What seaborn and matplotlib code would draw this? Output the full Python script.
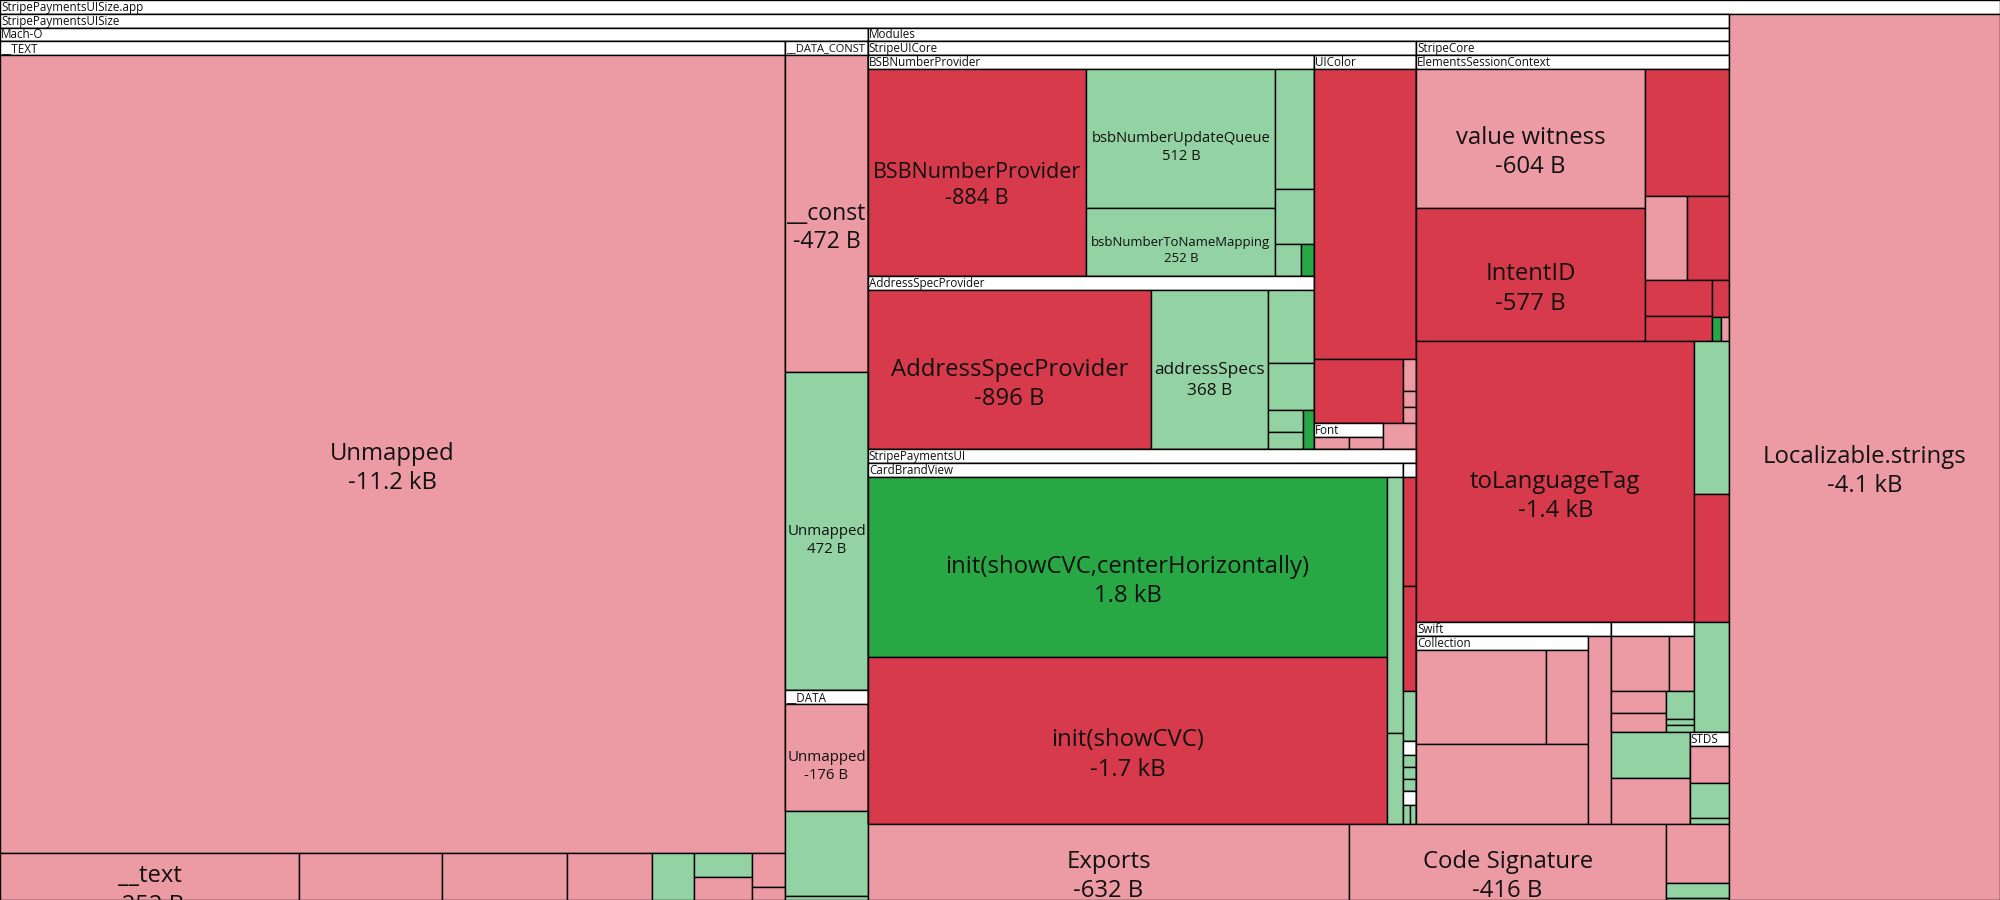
import matplotlib
matplotlib.use("Agg")
import matplotlib.pyplot as plt
from matplotlib.patches import Rectangle
import seaborn as sns

# kind of change -> colour (removed, shrunk, grown, added)
KINDS = ["del", "down", "up", "add"]
KIND_COLORS = dict(zip(KINDS, sns.color_palette(["#D73A4A", "#EC9BA4", "#93D2A2", "#28A745"])))

# (name, change in bytes, kind) -- None where the cell carries no readable label
TEXT_SECTIONS = [("Unmapped", -11230, "down"), ("__text", -252, "down"), (None, -121, "down"),
                 (None, -105, "down"), (None, -72, "down"), (None, 35, "up"), (None, 25, "up"),
                 (None, -24, "down"), (None, -20, "down"), (None, -8, "down")]
DATA_CONST_SECTIONS = [("__const", -472, "down"), ("Unmapped", 472, "up")]
DATA_SECTIONS = [("Unmapped", -176, "down")]
MACHO_OTHER = [(None, 124, "up"), (None, 6, "up")]

BSB_ITEMS = [("BSBNumberProvider", -884, "del"), ("bsbNumberUpdateQueue", 512, "up"),
             ("bsbNumberToNameMapping", 252, "up"), (None, 90, "up"), (None, 41, "up"),
             (None, 16, "up"), (None, 8, "add")]
ADDRESS_ITEMS = [("AddressSpecProvider", -896, "del"), ("addressSpecs", 368, "up"), (None, 67, "up"),
                 (None, 43, "up"), (None, 16, "up"), (None, 12, "up"), (None, 8, "add")]
UICOLOR_ITEMS = [(None, -566, "del"), (None, -108, "del"), (None, -8, "down"), (None, -4, "down"),
                 (None, -4, "down")]
FONT_ITEMS = [(None, -17, "down"), (None, -16, "down")]
UICORE_OTHER = [(None, -16, "down")]

CARD_ITEMS = [("init(showCVC,centerHorizontally)", 1780, "add"), ("init(showCVC)", -1661, "del"),
              (None, 78, "up"), (None, 28, "up")]
PAYMENTS_SMALL_A = [(None, -28, "del"), (None, -27, "del")]
PAYMENTS_OTHER = [(None, 12, "up")]
PAYMENTS_SMALL_B = [(None, 4, "up"), (None, 4, "up"), (None, 4, "up")]
PAYMENTS_SMALL_C = [(None, 4, "up"), (None, 4, "up")]

SESSION_ITEMS = [("value witness", -604, "down"), ("IntentID", -577, "del"), (None, -204, "del"),
                 (None, -68, "down"), (None, -68, "del"), (None, -46, "del"), (None, -32, "del"),
                 (None, -12, "del"), (None, 4, "add"), (None, -4, "down")]
CORE_OTHER = [("toLanguageTag", -1415, "del"), (None, 97, "up"), (None, -81, "del")]

COLLECTION_ITEMS = [(None, -252, "down"), (None, -80, "down"), (None, -280, "down")]
SWIFT_OTHER = [(None, -83, "down")]
UNNAMED_MODULE = [(None, -64, "down"), (None, -28, "down"), (None, -25, "down"), (None, -21, "down"),
                  (None, 16, "up"), (None, 4, "up"), (None, 4, "up")]
STDS_ITEMS = [(None, -30, "down"), (None, 29, "up"), (None, 5, "up")]
MODULES_OTHER = [(None, 68, "up"), (None, 64, "up"), (None, -64, "down")]

BINARY_OTHER = [("Exports", -632, "down"), ("Code Signature", -416, "down"), (None, -64, "down"),
                (None, 17, "up"), (None, 2, "up")]
APP_OTHER = [("Localizable.strings", -4100, "down")]

HEADER = 13.75   # height of a group's title bar, px
FMAX = 17.2      # largest label size, pt
FHEAD = 8.4      # title bar text size, pt


def leaves(items):
    return [dict(name=n, change=c, kind=k) for n, c, k in items]


def group(name, children, rows):
    assert sum(rows) == len(children)
    return dict(name=name, children=children, rows=rows)


text = group("__TEXT", leaves(TEXT_SECTIONS), [1, 1, 1, 1, 1, 1, 2, 1, 1])
data_const = group("__DATA_CONST", leaves(DATA_CONST_SECTIONS), [1, 1])
data = group("__DATA", leaves(DATA_SECTIONS), [1])
macho = group("Mach-O", [text, data_const, data] + leaves(MACHO_OTHER), [1, 1, 1, 1, 1])

bsb = group("BSBNumberProvider", leaves(BSB_ITEMS), [1, 2, 1, 1, 1, 1])
address = group("AddressSpecProvider", leaves(ADDRESS_ITEMS), [1, 1, 1, 1, 2, 1])
uicolor = group("UIColor", leaves(UICOLOR_ITEMS), [1, 1, 1, 1, 1])
font = group("Font", leaves(FONT_ITEMS), [1, 1])
uicore = group("StripeUICore", [bsb, address, uicolor, font] + leaves(UICORE_OTHER), [2, 1, 1, 1])

card = group("CardBrandView", leaves(CARD_ITEMS), [2, 1, 1])
payments = group("StripePaymentsUI",
                 [card, group(None, leaves(PAYMENTS_SMALL_A), [1, 1])] + leaves(PAYMENTS_OTHER)
                 + [group(None, leaves(PAYMENTS_SMALL_B), [1, 1, 1]),
                    group(None, leaves(PAYMENTS_SMALL_C), [2])],
                 [1, 1, 1, 1, 1])

session = group("ElementsSessionContext", leaves(SESSION_ITEMS), [2, 1, 2, 2, 1, 2])
core = group("StripeCore", [session] + leaves(CORE_OTHER), [1, 1, 1, 1])

swift = group("Swift", [group("Collection", leaves(COLLECTION_ITEMS), [2, 1])] + leaves(SWIFT_OTHER), [1, 1])
modules = group("Modules",
                [uicore, payments, core, swift, group(None, leaves(UNNAMED_MODULE), [2, 2, 1, 2])]
                + leaves(MODULES_OTHER) + [group("STDS", leaves(STDS_ITEMS), [1, 1, 1])],
                [2, 1, 1, 2, 2, 1])

binary = group("StripePaymentsUISize", [macho, modules] + leaves(BINARY_OTHER), [1, 1, 1, 1, 1, 2])
root = group("StripePaymentsUISize.app", [binary] + leaves(APP_OTHER), [1, 1])


def total(node):
    if "children" in node:
        node["value"] = sum(total(c) for c in node["children"])
    else:
        node["value"] = abs(node["change"])
    return node["value"]


def place(node, x0, y0, x1, y1):
    # squarified-style rows: strip along the shorter side of what is left
    node["rect"] = (x0, y0, x1, y1)
    if "children" not in node:
        return
    y0 += HEADER
    left = node["value"]
    kids = iter(node["children"])
    for n in node["rows"]:
        row = [next(kids) for _ in range(n)]
        s = sum(c["value"] for c in row)
        dx, dy = x1 - x0, y1 - y0
        if dx < dy:
            yb = y0 + dy * s / left
            cx = x0
            for c in row:
                w = dx * c["value"] / s
                place(c, cx, y0, cx + w, yb)
                cx += w
            y0 = yb
        else:
            xb = x0 + dx * s / left
            cy = y0
            for c in row:
                h = dy * c["value"] / s
                place(c, x0, cy, xb, cy + h)
                cy += h
            x0 = xb
        left -= s


def fmt(b):
    return f"{b / 1000:.1f} kB" if abs(b) >= 1000 else f"{b} B"


sns.set_style("white")
plt.rcParams["font.family"] = ["Open Sans", "DejaVu Sans"]

W, H = 2000, 900
total(root)
place(root, 0, 0, W, H)

fig = plt.figure(figsize=(20, 9), dpi=100)
ax = fig.add_axes([0, 0, 1, 1])
ax.set_xlim(0, W)
ax.set_ylim(H, 0)
ax.axis("off")
renderer = fig.canvas.get_renderer()


def draw(node):
    x0, y0, x1, y1 = node["rect"]
    if "children" in node:
        box = Rectangle((x0, y0), x1 - x0, y1 - y0, facecolor="white", edgecolor="black", lw=1.0)
        ax.add_patch(box)
        bar = Rectangle((x0, y0), x1 - x0, HEADER, facecolor="white", edgecolor="black", lw=1.0)
        ax.add_patch(bar)
        if node["name"]:
            t = ax.text(x0 + 1, y0 + HEADER / 2 + 0.5, node["name"], ha="left", va="center",
                        fontsize=FHEAD, color="#111111")
            w = t.get_window_extent(renderer).width
            if w > x1 - x0 - 3:
                t.set_fontsize(FHEAD * (x1 - x0 - 3) / w)
            t.set_clip_path(bar)
        for c in node["children"]:
            draw(c)
        return
    ax.add_patch(Rectangle((x0, y0), x1 - x0, y1 - y0, facecolor=KIND_COLORS[node["kind"]],
                           edgecolor="black", lw=1.0))
    if not node["name"]:
        return
    cx, cy = (x0 + x1) / 2, (y0 + y1) / 2
    t1 = ax.text(cx, cy, node["name"], ha="center", va="center", fontsize=FMAX, color="#111111")
    t2 = ax.text(cx, cy, fmt(node["change"]), ha="center", va="center", fontsize=FMAX, color="#111111")
    widest = max(t1.get_window_extent(renderer).width, t2.get_window_extent(renderer).width)
    fs = min(FMAX, FMAX * (x1 - x0) * 0.95 / widest)
    for t in (t1, t2):
        t.set_fontsize(fs)
    t2.set_y(cy + 1.22 * fs * 100 / 72)


draw(root)
fig.savefig("out.png", dpi=100)
